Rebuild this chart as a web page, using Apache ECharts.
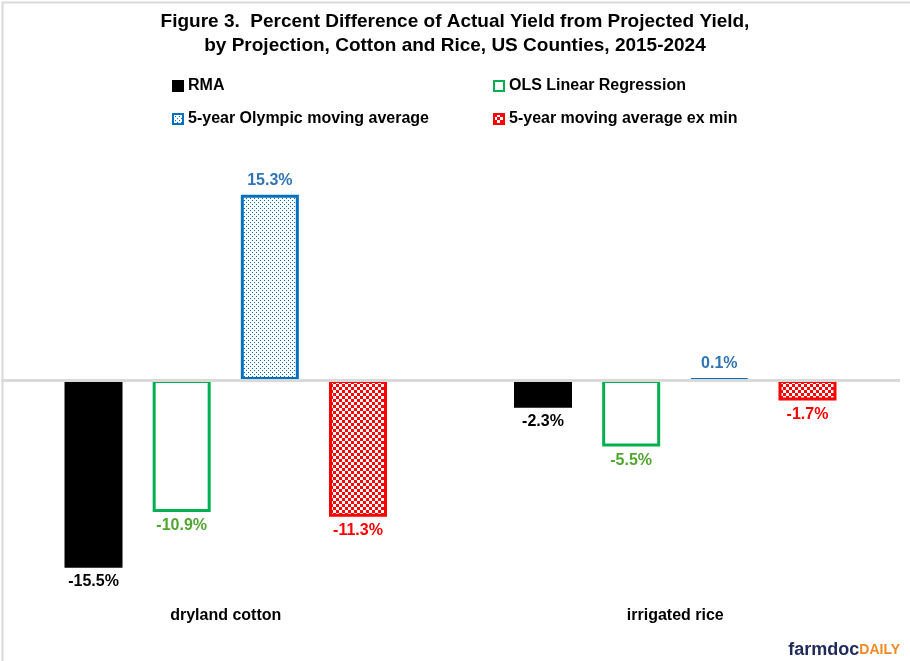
<!DOCTYPE html>
<html><head><meta charset="utf-8">
<script src="https://cdn.jsdelivr.net/npm/echarts@6/dist/echarts.min.js"></script>
<style>html,body{margin:0;padding:0;background:#fff}#c{width:910px;height:661px}</style>
</head><body><div id="c"></div>
<script>
const categories = ['dryland cotton', 'irrigated rice'];
const seriesNames = ['RMA', 'OLS Linear Regression', '5-year Olympic moving average', '5-year moving average ex min'];
const rmaValues = [-15.5, -2.3];
const olsValues = [-10.9, -5.5];
const olympicValues = [15.3, 0.1];
const exMinValues = [-11.3, -1.7];

function makeDots() {
  const c = document.createElement('canvas'); c.width = 4; c.height = 4;
  const g = c.getContext('2d'); g.fillStyle = '#fff'; g.fillRect(0,0,4,4);
  g.fillStyle = '#0070C0'; g.fillRect(0,0,1,1); g.fillRect(2,2,1,1);
  return c;
}
function makeChecker() {
  const c = document.createElement('canvas'); c.width = 6; c.height = 6;
  const g = c.getContext('2d'); g.fillStyle = '#fff'; g.fillRect(0,0,6,6);
  g.fillStyle = '#FF0000'; g.fillRect(0,0,3,3); g.fillRect(3,3,3,3);
  return c;
}
const dotFill = {image: makeDots(), repeat: 'repeat'};
const checkFill = {image: makeChecker(), repeat: 'repeat'};

const styles = [
  {fill: '#000000', border: '#000000', label: '#000000'},
  {fill: '#FFFFFF', border: '#00B050', label: '#4EA72E'},
  {fill: dotFill, border: '#0070C0', label: '#2E75B6'},
  {fill: checkFill, border: '#FF0000', label: '#FF0000'}
];
const allValues = [rmaValues, olsValues, olympicValues, exMinValues];
const font = 'Liberation Sans, Arial, sans-serif';

const series = allValues.map((vals, i) => ({
  name: seriesNames[i],
  type: 'bar',
  barWidth: 58,
  barGap: '52%',
  itemStyle: {color: styles[i].fill, borderColor: styles[i].border, borderWidth: 3},
  data: vals.map(v => ({
    value: v,
    label: {show: true, position: v >= 0 ? 'top' : 'bottom', distance: 6,
      formatter: p => p.value.toFixed(1) + '%', color: styles[i].label,
      fontFamily: font, fontWeight: 'bold', fontSize: 16}
  })),
  markLine: i === 0 ? {silent: true, symbol: 'none', label: {show: false},
    lineStyle: {color: '#D9D9D9', width: 3, type: 'solid'}, data: [{yAxis: 0}]} : undefined,
  z: 3
}));

const legendPos = [[172, 78], [493, 78], [172, 111], [493, 111]];
const legends = seriesNames.map((n, i) => ({
  data: [n], left: legendPos[i][0], top: legendPos[i][1],
  itemWidth: 10, itemHeight: 10, itemGap: 0, icon: 'rect',
  padding: 0,
  textStyle: {fontFamily: font, fontWeight: 'bold', fontSize: 16, color: '#000', padding: [0,0,0,0]},
  selectedMode: false
}));

const chart = echarts.init(document.getElementById('c'), null, {renderer: 'canvas'});
chart.setOption({
  animation: false,
  backgroundColor: '#fff',
  title: {
    text: 'Figure 3.  Percent Difference of Actual Yield from Projected Yield,\nby Projection, Cotton and Rice, US Counties, 2015-2024',
    left: 'center', top: 5,
    textStyle: {fontFamily: font, fontWeight: 'bold', fontSize: 19, lineHeight: 24, color: '#000'}
  },
  legend: legends,
  grid: {left: 1, width: 899, top: 162, height: 436, containLabel: false},
  xAxis: {
    type: 'category', data: categories,
    axisLine: {show: false, onZero: false}, axisTick: {show: false},
    axisLabel: {margin: 10, fontFamily: font, fontWeight: 'bold', fontSize: 16, color: '#000'}
  },
  yAxis: {type: 'value', min: -18, max: 18, show: false, splitLine: {show: false}},
  series: series,
  graphic: [
    {type: 'rect', left: 0, top: 0, shape: {width: 909, height: 660}, style: {fill: 'none', stroke: '#D9D9D9', lineWidth: 2}, z: 100},
    {type: 'text', right: 10, top: 641, style: {
      text: '{a|farmdoc}{b|DAILY}',
      rich: {a: {fontFamily: font, fontWeight: 'bold', fontSize: 18, fill: '#1F2A5A'},
             b: {fontFamily: font, fontWeight: 'bold', fontSize: 14, fill: '#F08A24'}}
    }}
  ]
});
</script></body></html>
